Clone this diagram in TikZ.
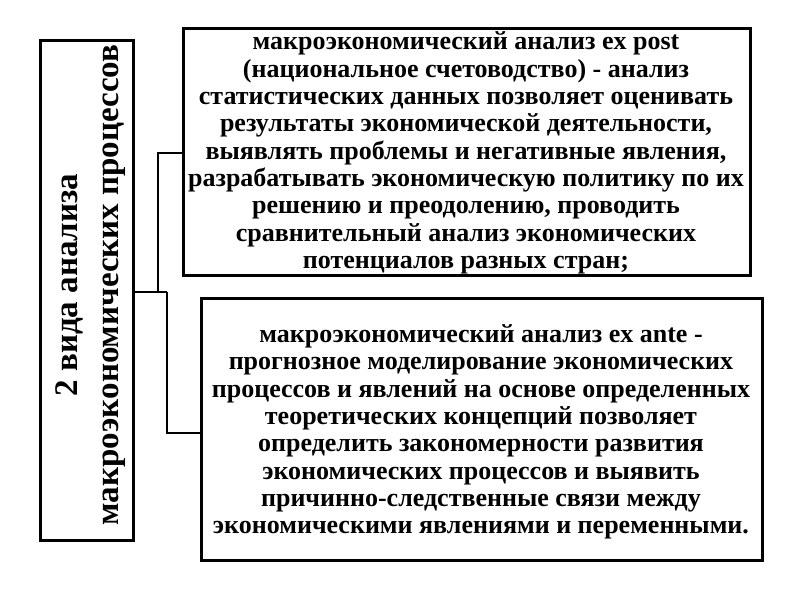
\documentclass[tikz,border=0pt]{standalone}
\usepackage{fontspec}
\setmainfont{Liberation Serif}
\begin{document}
\begin{tikzpicture}[x=1pt,y=-1pt,
  box/.style={draw,line width=3pt,inner sep=0pt},
  txt/.style={align=center,font=\bfseries\fontsize{26}{27.3}\selectfont},
  ltxt/.style={align=center,font=\bfseries\fontsize{33}{41}\selectfont},
  conn/.style={line width=2pt}]
\useasboundingbox[fill=white] (0,0) rectangle (800,600);
\draw[box] (40,40) rectangle (133,540);
\node[ltxt,rotate=90] (l) at (91,285) {2 вида анализа\\макроэкономических процессов};
\draw[box] (183,28) rectangle (750,275);
\node[txt] (t) at (466,153) {макроэкономический анализ ex post\\(национальное счетоводство) - анализ\\статистических данных позволяет оценивать\\результаты экономической деятельности,\\выявлять проблемы и негативные явления,\\разрабатывать экономическую политику по их\\решению и преодолению, проводить\\сравнительный анализ экономических\\потенциалов разных стран;};
\draw[box] (201,298) rectangle (762,560);
\node[txt] (b) at (481,432) {макроэкономический анализ ex ante -\\прогнозное моделирование экономических\\процессов и явлений на основе определенных\\теоретических концепций позволяет\\определить закономерности развития\\экономических процессов и выявить\\причинно-следственные связи между\\экономическими явлениями и переменными.};
\coordinate (a) at (133,292);
\coordinate (j) at (167,292);
\draw[conn] (a) -- (j);
\draw[conn] (158,292) |- (183,153);
\draw[conn] (j) |- (201,433);
\end{tikzpicture}
\end{document}
